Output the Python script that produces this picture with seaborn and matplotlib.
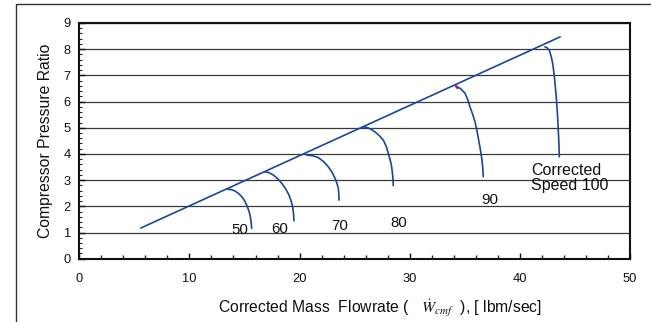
import matplotlib
matplotlib.use("Agg")
import matplotlib.pyplot as plt
from matplotlib.patches import Rectangle
from matplotlib.ticker import MultipleLocator
import seaborn as sns
import pandas as pd

# ---- data ----
surge_x = [5.58, 43.66]
surge_y = [1.17, 8.47]

speeds = ["50", "60", "70", "80", "90", "Corrected\nSpeed 100"]
x50 = [13.44, 13.80, 14.14, 14.45, 14.75, 15.00, 15.20, 15.37, 15.50, 15.60, 15.65]
y50 = [2.65, 2.64, 2.585, 2.49, 2.37, 2.22, 2.05, 1.86, 1.67, 1.42, 1.16]
x60 = [16.80, 17.20, 17.61, 18.00, 18.38, 18.73, 19.04, 19.23, 19.37, 19.45, 19.49]
y60 = [3.32, 3.29, 3.196, 3.06, 2.88, 2.67, 2.43, 2.21, 1.985, 1.72, 1.45]
x70 = [20.65, 21.20, 21.70, 22.18, 22.61, 22.95, 23.22, 23.39, 23.52, 23.57, 23.58]
y70 = [3.96, 3.93, 3.86, 3.71, 3.51, 3.30, 3.07, 2.88, 2.69, 2.46, 2.24]
x80 = [25.73, 26.20, 26.69, 27.17, 27.60, 27.87, 28.06, 28.23, 28.36, 28.46, 28.51]
y80 = [5.04, 5.00, 4.89, 4.73, 4.53, 4.29, 4.02, 3.77, 3.51, 3.15, 2.79]
x90 = [34.20, 34.63, 35.02, 35.27, 35.47, 35.71, 35.93, 36.09, 36.23, 36.40, 36.54, 36.63, 36.68]
y90 = [6.59, 6.49, 6.32, 6.07, 5.80, 5.52, 5.23, 4.92, 4.60, 4.21, 3.83, 3.48, 3.13]
x100 = [42.28, 42.48, 42.67, 42.84, 42.98, 43.10, 43.19, 43.28, 43.35, 43.43, 43.49, 43.55, 43.58]
y100 = [8.09, 8.05, 7.97, 7.73, 7.46, 7.08, 6.70, 6.31, 5.93, 5.42, 4.91, 4.40, 3.89]

label_x = [14.53, 18.23, 23.68, 28.97, 37.3, 41.0]
label_y = [1.10, 1.12, 1.25, 1.37, 2.24, 3.08]

curves_x = [x50, x60, x70, x80, x90, x100]
curves_y = [y50, y60, y70, y80, y90, y100]

# ---- styling ----
sns.set_style("white")
plt.rcParams["font.family"] = ["Liberation Sans", "DejaVu Sans"]
plt.rcParams["mathtext.fontset"] = "stix"

LINE = "#1a44a6"
TXT = "#111111"

fig = plt.figure(figsize=(6.51, 3.22), dpi=100)
ax = fig.add_axes([0.1218, 0.1966, 0.8459, 0.732])

# figure frame (left and top visible)
fig.patches.append(Rectangle((16.0 / 651, -0.5), 2.0, 1.5 - 3.5 / 322,
                             transform=fig.transFigure, fill=False,
                             edgecolor="#333333", linewidth=1.0, zorder=0))

# horizontal grid
ax.set_axisbelow(True)
ax.yaxis.grid(True, color="#3a3a3a", linewidth=0.9)
ax.xaxis.grid(False)

sns.lineplot(x=surge_x, y=surge_y, ax=ax, color=LINE, linewidth=1.2,
             sort=False, estimator=None)
for cx, cy in zip(curves_x, curves_y):
    df = pd.DataFrame({"x": cx, "y": cy})
    sns.lineplot(data=df, x="x", y="y", ax=ax, color=LINE, linewidth=1.2,
                 sort=False, estimator=None)

# small magenta mark at the 90 peak
ax.plot([x90[0] - 0.05, x90[0] + 0.2], [y90[0] + 0.02, y90[0] - 0.1],
        color="#a0149a", linewidth=1.6, solid_capstyle="butt")

for t, lx, ly in zip(speeds, label_x, label_y):
    if "\n" in t:
        ax.text(lx, ly, t, fontsize=11.5, ha="left", va="center",
                linespacing=1.05, color=TXT)
    else:
        ax.text(lx, ly, t, fontsize=10.8, ha="center", va="center", color=TXT)

ax.set_xlim(0, 50)
ax.set_ylim(0, 9)
ax.xaxis.set_major_locator(MultipleLocator(10))
ax.xaxis.set_minor_locator(MultipleLocator(2))
ax.yaxis.set_major_locator(MultipleLocator(1))
ax.yaxis.set_minor_locator(MultipleLocator(0.2))
ax.tick_params(axis="x", which="major", direction="in", length=4.5, width=1,
               pad=10.5, labelsize=9.3, colors=TXT, bottom=True, top=False)
ax.tick_params(axis="x", which="minor", direction="in", length=3, width=1,
               bottom=True, top=False)
ax.tick_params(axis="y", which="major", direction="in", length=4, width=1,
               pad=6.0, labelsize=9.3, colors=TXT, left=True, right=False)
ax.tick_params(axis="y", which="minor", direction="in", length=2.5, width=0.8,
               left=True, right=False)

for s in ax.spines.values():
    s.set_visible(True)
    s.set_color(TXT)
    s.set_linewidth(1.5)

ax.set_ylabel("Compressor Pressure Ratio", fontsize=11.3, color=TXT)
ax.yaxis.set_label_coords(-0.062, 0.50)
ax.yaxis.label.set_va("center")
ax.set_xlabel(r"Corrected Mass  Flowrate (   $\dot{W}_{\it cmf}$  ), [ lbm/sec]",
              fontsize=11.3, color=TXT)
ax.xaxis.set_label_coords(0.546, -0.209)
ax.xaxis.label.set_va("center")

fig.savefig("out.png", dpi=100)
